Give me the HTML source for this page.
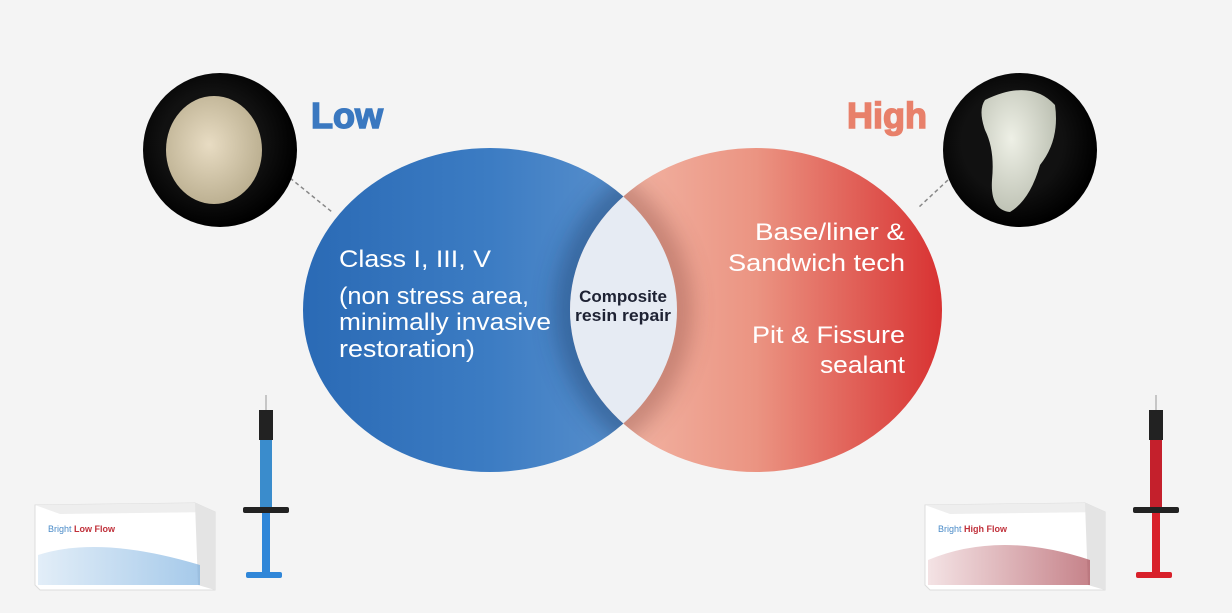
<!DOCTYPE html>
<html><head><style>
body{margin:0;width:1232px;height:608px;background:#f4f4f4;overflow:hidden;font-family:"Liberation Sans",sans-serif}
</style></head><body>
<svg width="1232" height="608" viewBox="0 0 1232 608" xmlns="http://www.w3.org/2000/svg">
<defs>
<linearGradient id="bl" x1="0" x2="1"><stop offset="0" stop-color="#2a6ab5"/><stop offset="0.5" stop-color="#3c7cc3"/><stop offset="1" stop-color="#6397d0"/></linearGradient>
<linearGradient id="rd" x1="0" x2="1"><stop offset="0" stop-color="#f4c0b0"/><stop offset="0.5" stop-color="#eb9482"/><stop offset="1" stop-color="#d83232"/></linearGradient>
<radialGradient id="bk" cx="0.45" cy="0.45" r="0.55"><stop offset="0.6" stop-color="#111"/><stop offset="1" stop-color="#000"/></radialGradient>
<radialGradient id="tl" cx="0.45" cy="0.45" r="0.6"><stop offset="0" stop-color="#e8dcc3"/><stop offset="1" stop-color="#b9ad8e"/></radialGradient>
<radialGradient id="tr" cx="0.4" cy="0.4" r="0.7"><stop offset="0" stop-color="#eef0e6"/><stop offset="1" stop-color="#b8bcae"/></radialGradient>
<linearGradient id="wave" x1="0" x2="1"><stop offset="0" stop-color="#cfe2f3"/><stop offset="1" stop-color="#6aa6dc"/></linearGradient>
<linearGradient id="waver" x1="0" x2="1"><stop offset="0" stop-color="#ecd0d3"/><stop offset="1" stop-color="#a0303c"/></linearGradient>
<clipPath id="cl"><ellipse cx="490" cy="310" rx="187" ry="162"/></clipPath>
<clipPath id="cr"><ellipse cx="756" cy="310" rx="186" ry="162"/></clipPath>
<filter id="bf" x="-50%" y="-50%" width="200%" height="200%"><feGaussianBlur stdDeviation="12"/></filter>
</defs>
<ellipse cx="490" cy="310" rx="187" ry="162" fill="url(#bl)"/>
<ellipse cx="756" cy="310" rx="186" ry="162" fill="url(#rd)"/>
<g clip-path="url(#cl)"><ellipse cx="756" cy="310" rx="186" ry="162" fill="none" stroke="#1b3e6a" stroke-width="28" opacity="0.5" filter="url(#bf)"/></g>
<g clip-path="url(#cr)"><ellipse cx="490" cy="310" rx="187" ry="162" fill="none" stroke="#7a3a30" stroke-width="28" opacity="0.4" filter="url(#bf)"/></g>
<g clip-path="url(#cl)"><ellipse cx="756" cy="310" rx="186" ry="162" fill="#e6ebf3"/></g>
<text x="623" y="302" text-anchor="middle" font-size="17" font-weight="bold" fill="#1e2233">Composite</text>
<text x="623" y="321" text-anchor="middle" font-size="17" font-weight="bold" fill="#1e2233" textLength="96" lengthAdjust="spacingAndGlyphs">resin repair</text>
<g fill="#fff" font-size="24">
<text x="339" y="267" textLength="152" lengthAdjust="spacingAndGlyphs">Class I, III, V</text>
<text x="339" y="304" textLength="190" lengthAdjust="spacingAndGlyphs">(non stress area,</text>
<text x="339" y="330" textLength="212" lengthAdjust="spacingAndGlyphs">minimally invasive</text>
<text x="339" y="357" textLength="136" lengthAdjust="spacingAndGlyphs">restoration)</text>
<text x="755" y="240" textLength="150" lengthAdjust="spacingAndGlyphs">Base/liner &amp;</text>
<text x="728" y="271" textLength="177" lengthAdjust="spacingAndGlyphs">Sandwich tech</text>
<text x="752" y="343" textLength="153" lengthAdjust="spacingAndGlyphs">Pit &amp; Fissure</text>
<text x="820" y="373" textLength="85" lengthAdjust="spacingAndGlyphs">sealant</text>
</g>
<text x="311" y="128" font-size="36" font-weight="900" fill="#3a78c0" stroke="#3a78c0" stroke-width="1.5">Low</text>
<text x="847" y="128" font-size="36" font-weight="900" fill="#e8806a" stroke="#e8806a" stroke-width="1.5">High</text>
<line x1="290" y1="178" x2="332" y2="212" stroke="#888" stroke-width="1.5" stroke-dasharray="4,3"/>
<line x1="948" y1="180" x2="918" y2="208" stroke="#888" stroke-width="1.5" stroke-dasharray="4,3"/>
<circle cx="220" cy="150" r="77" fill="url(#bk)"/>
<ellipse cx="214" cy="150" rx="48" ry="54" fill="url(#tl)"/>
<circle cx="1020" cy="150" r="77" fill="url(#bk)"/>
<path d="M985,100 Q1030,78 1055,105 Q1060,140 1040,165 Q1030,200 1010,212 Q990,210 992,180 Q995,150 985,130 Q978,110 985,100Z" fill="url(#tr)"/>
<g>
<polygon points="35,505 195,503 215,512 215,590 40,590 35,585" fill="#fff" stroke="#ddd"/>
<polygon points="35,505 195,503 215,512 60,514" fill="#eee"/>
<polygon points="195,503 215,512 215,590 198,585" fill="#e4e4e4"/>
<path d="M38,555 Q100,535 200,565 L200,585 L38,585Z" fill="url(#wave)" opacity="0.6"/>
<text x="48" y="532" font-size="9" fill="#4a8bc8">Bright <tspan fill="#c0303a" font-weight="bold">Low Flow</tspan></text>
<line x1="266" y1="395" x2="266" y2="410" stroke="#999" stroke-width="1"/>
<rect x="259" y="410" width="14" height="30" fill="#222"/>
<rect x="260" y="440" width="12" height="68" fill="#3a8ccc"/>
<rect x="243" y="507" width="46" height="6" fill="#222" rx="2"/>
<rect x="262" y="513" width="8" height="60" fill="#2f86d8"/>
<rect x="246" y="572" width="36" height="6" fill="#2f86d8" rx="2"/>
</g>
<g>
<polygon points="925,505 1085,503 1105,512 1105,590 930,590 925,585" fill="#fff" stroke="#ddd"/>
<polygon points="925,505 1085,503 1105,512 950,514" fill="#eee"/>
<polygon points="1085,503 1105,512 1105,590 1088,585" fill="#e4e4e4"/>
<path d="M928,560 Q1000,530 1090,560 L1090,585 L928,585Z" fill="url(#waver)" opacity="0.6"/>
<text x="938" y="532" font-size="9" fill="#4a8bc8">Bright <tspan fill="#c0303a" font-weight="bold">High Flow</tspan></text>
<line x1="1156" y1="395" x2="1156" y2="410" stroke="#999" stroke-width="1"/>
<rect x="1149" y="410" width="14" height="30" fill="#222"/>
<rect x="1150" y="440" width="12" height="68" fill="#c4202c"/>
<rect x="1133" y="507" width="46" height="6" fill="#222" rx="2"/>
<rect x="1152" y="513" width="8" height="60" fill="#d8202a"/>
<rect x="1136" y="572" width="36" height="6" fill="#d8202a" rx="2"/>
</g>
</svg>
</body></html>
